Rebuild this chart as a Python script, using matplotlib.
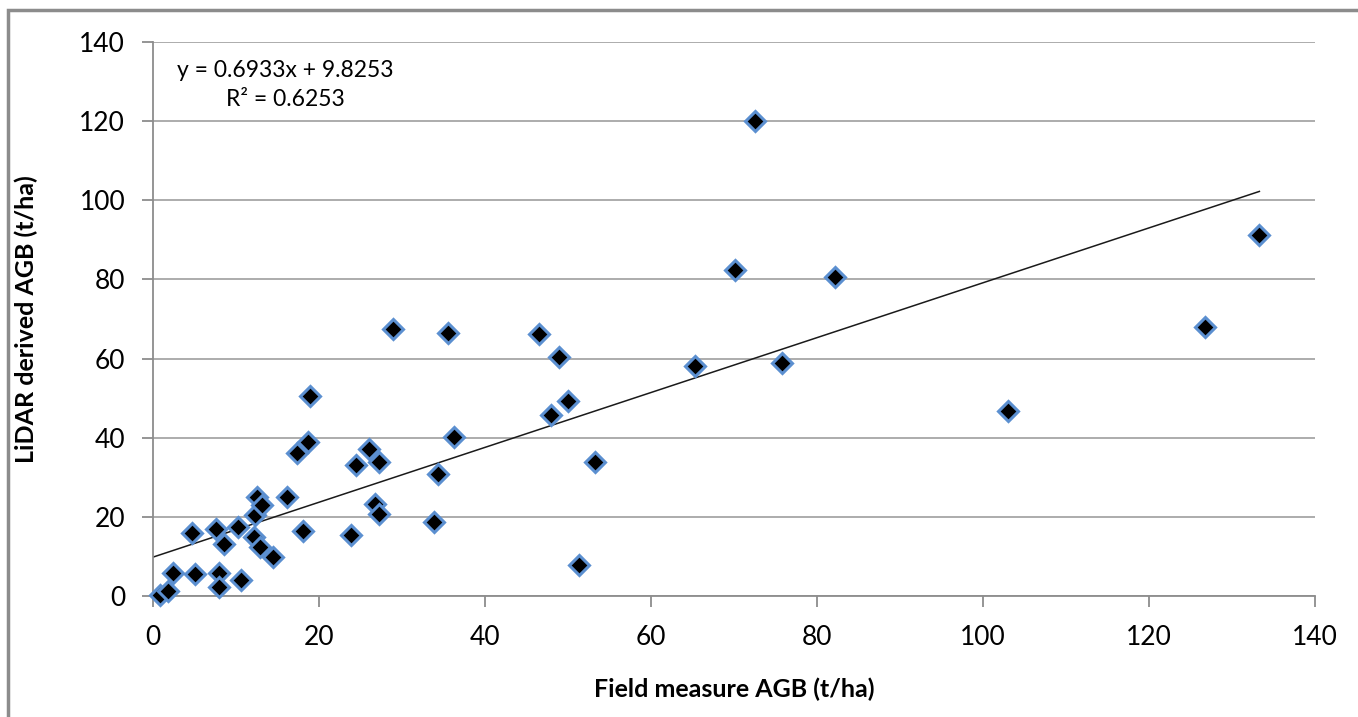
import numpy as np
import matplotlib
matplotlib.use('Agg')
import matplotlib.pyplot as plt
from matplotlib.patches import Rectangle

# field measured vs LiDAR derived above ground biomass (t/ha)
field_agb = [0.8, 1.8, 2.4, 4.7, 5.1, 7.6, 7.9, 7.9, 8.6, 10.6, 10.2,
             12.3, 12.5, 13.1, 12.2, 12.9, 14.5, 16.1, 17.3, 18.7, 18.9,
             18.1, 23.9, 24.5, 26.0, 27.2, 26.7, 27.2, 33.9, 34.3, 36.3,
             28.9, 35.5, 46.5, 48.9, 47.9, 50.0, 53.3, 51.3, 65.3, 70.1,
             72.5, 75.8, 82.2, 103.0, 126.7, 133.3]
lidar_agb = [0.3, 1.3, 5.8, 15.9, 5.6, 16.9, 5.8, 2.3, 13.1, 4.0, 17.4,
             20.5, 25.0, 23.0, 14.9, 12.4, 9.9, 25.0, 36.1, 38.9, 50.5,
             16.4, 15.4, 33.1, 37.1, 33.9, 23.3, 20.7, 18.7, 30.8, 40.2,
             67.5, 66.4, 66.2, 60.4, 45.7, 49.3, 33.9, 7.8, 58.1, 82.4,
             120.1, 58.9, 80.6, 46.8, 68.0, 91.2]

slope = 0.6933
intercept = 9.8253
r2 = 0.6253

ticks = [0, 20, 40, 60, 80, 100, 120, 140]

plt.rcParams['font.family'] = ['Lato', 'DejaVu Sans']

fig = plt.figure(figsize=(13.58, 7.17), dpi=100)
fig.patches.append(Rectangle((8 / 1358, -0.1), 1.2, 1.1 - 10 / 717,
                             transform=fig.transFigure, fill=False,
                             edgecolor='#8c8c8c', linewidth=2.5))
ax = fig.add_axes([153 / 1358, 1 - 596 / 717, (1315 - 153) / 1358, (596 - 42) / 717])

ax.set_xlim(0, 140)
ax.set_ylim(0, 140)
ax.set_xticks(ticks)
ax.set_yticks(ticks)
ax.yaxis.grid(True, color='#a6a6a6', linewidth=1.3)
ax.set_axisbelow(True)

for s in ['top', 'right']:
    ax.spines[s].set_visible(False)
for s in ['left', 'bottom']:
    ax.spines[s].set_color('#8c8c8c')
    ax.spines[s].set_linewidth(1.3)

ax.tick_params(axis='both', colors='#8c8c8c', length=8, width=1.3,
               labelsize=19, labelcolor='black')
ax.tick_params(axis='x', pad=13)
ax.tick_params(axis='y', pad=12)

# linear trend line from the fitted equation
xl = np.array([0, max(field_agb)])
ax.plot(xl, slope * xl + intercept, color='#1a1a1a', linewidth=1.1, zorder=2)

ax.plot(field_agb, lidar_agb, linestyle='none', marker='D', markersize=10.5,
        markerfacecolor='black', markeredgecolor='#5b8fd0', markeredgewidth=2.2,
        clip_on=False, zorder=3)

ax.text(15.9, 129.2, 'y = {:.4f}x + {:.4f}\nR² = {:.4f}'.format(slope, intercept, r2),
        ha='center', va='center', fontsize=16.5, linespacing=1.45)

ax.set_xlabel('Field measure AGB (t/ha)', fontsize=18, fontweight='bold', labelpad=20)
ax.set_ylabel('LiDAR derived AGB (t/ha)', fontsize=18, fontweight='bold', labelpad=30)

fig.savefig('out.png', dpi=100)
